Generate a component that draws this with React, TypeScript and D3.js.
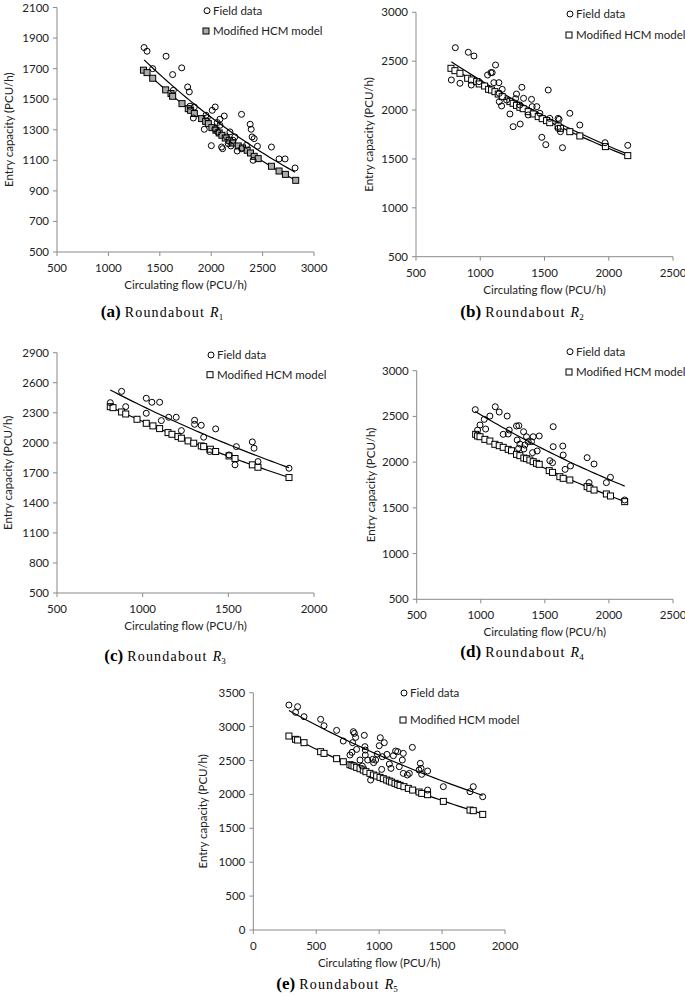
import React from 'react';
import * as d3 from 'd3';

// ---------- Data: Roundabout R1 ----------
const r1FieldFlow = [1347,1376,1431,1561,1625,1632,1713,1771,1787,1794,1826,1836,1933,1962,1949,2001,2010,2039,2059,2085,2101,2111,2127,2149,2182,2191,2230,2253,2295,2343,2379,2389,2398,2408,2418,2450,2586,2660,2719,2816,2062,2036,2214,2166,2085,2295];
const r1FieldCap = [1838,1814,1700,1781,1661,1558,1705,1580,1548,1454,1377,1449,1303,1379,1395,1196,1427,1449,1347,1369,1187,1176,1390,1253,1286,1194,1253,1161,1401,1198,1336,1303,1253,1100,1242,1192,1187,1109,1109,1050,1286,1307,1231,1209,1329,1176];
const r1ModelFlow = [1341,1376,1431,1557,1609,1625,1716,1777,1800,1836,1907,1946,1972,2007,2046,2078,2104,2137,2175,2207,2263,2305,2350,2382,2418,2457,2586,2660,2722,2822];
const r1ModelCap = [1690,1674,1637,1561,1537,1519,1471,1438,1427,1406,1373,1355,1340,1314,1297,1279,1264,1246,1231,1213,1194,1181,1166,1148,1126,1111,1061,1030,1008,969];
const r1XTicks = [500,1000,1500,2000,2500,3000];
const r1YTicks = [500,700,900,1100,1300,1500,1700,1900,2100];

// ---------- Data: Roundabout R2 ----------
const r2FieldFlow = [806,775,842,907,951,930,990,1057,1083,1093,1119,1106,1145,1148,1171,1166,1148,1231,1256,1282,1275,1311,1324,1337,1399,1404,1373,1440,1529,1479,1510,1541,1606,1614,1624,1640,1697,1775,1971,2148,1205,1308,1464,1606];
const r2FieldCap = [2638,2308,2274,2591,2553,2256,2291,2359,2383,2383,2461,2280,2280,2171,2212,2042,2086,1960,1830,2164,2117,1857,2233,2120,2110,2035,1950,2035,2205,1721,1646,1915,1915,1905,1779,1615,1967,1847,1666,1639,2103,2052,1967,1813];
const r2ModelFlow = [772,803,842,902,933,972,992,1034,1065,1088,1114,1140,1171,1231,1256,1282,1308,1334,1373,1412,1451,1482,1516,1541,1606,1624,1697,1775,1974,2148];
const r2ModelCap = [2427,2403,2376,2325,2308,2291,2267,2246,2212,2205,2188,2164,2137,2086,2069,2048,2028,2014,1984,1960,1933,1912,1892,1871,1837,1813,1779,1735,1626,1534];
const r2XTicks = [500,1000,1500,2000,2500];
const r2YTicks = [500,1000,1500,2000,2500,3000];

// ---------- Data: Roundabout R3 ----------
const r3FieldFlow = [811,877,901,1021,1021,1054,1099,1109,1152,1196,1226,1303,1303,1342,1356,1426,1391,1504,1539,1547,1640,1650,1673,1854];
const r3FieldCap = [2401,2514,2361,2445,2295,2405,2405,2222,2255,2255,2122,2225,2185,2175,2056,2139,1913,1879,1780,1962,2009,1946,1813,1746];
const r3ModelFlow = [811,827,877,901,967,1021,1060,1099,1148,1171,1206,1226,1265,1298,1342,1356,1395,1426,1504,1539,1640,1673,1854];
const r3ModelCap = [2361,2351,2308,2288,2235,2195,2169,2142,2102,2085,2062,2046,2019,1996,1969,1962,1936,1913,1869,1843,1780,1756,1653];
const r3XTicks = [500,1000,1500,2000];
const r3YTicks = [500,800,1100,1400,1700,2000,2300,2600,2900];

// ---------- Data: Roundabout R4 ----------
const r4FieldFlow = [957,975,994,1027,1038,1071,1113,1144,1206,1175,1214,1222,1279,1297,1284,1305,1295,1334,1336,1357,1370,1396,1409,1404,1440,1456,1344,1539,1560,1565,1565,1640,1643,1658,1700,1830,1884,1845,1980,2012,2123];
const r4FieldCap = [2574,2351,2406,2468,2362,2504,2606,2548,2504,2304,2308,2351,2395,2399,2242,2198,2151,2333,2144,2278,2224,2224,2278,2104,2122,2286,2187,2016,1994,2388,2169,2176,2078,1921,1958,2049,1980,1776,1776,1834,1586];
const r4ModelFlow = [960,975,994,1032,1071,1110,1144,1175,1214,1240,1279,1305,1336,1357,1383,1409,1435,1456,1534,1560,1617,1643,1695,1830,1851,1884,1980,2012,2123];
const r4ModelCap = [2304,2286,2278,2249,2231,2195,2180,2162,2140,2125,2085,2071,2045,2038,2023,2005,1987,1976,1907,1888,1841,1823,1805,1732,1714,1695,1652,1630,1568];
const r4XTicks = [500,1000,1500,2000,2500];
const r4YTicks = [500,1000,1500,2000,2500,3000];

// ---------- Data: Roundabout R5 ----------
const r5FieldFlow = [283,336,352,403,535,562,662,715,768,784,789,795,803,813,821,848,866,882,887,890,890,909,932,948,956,972,985,1001,1009,1020,1025,1041,1062,1081,1094,1113,1131,1147,1160,1184,1192,1192,1224,1240,1264,1317,1327,1333,1338,1385,1385,1510,1722,1748,1823];
const r5FieldCap = [3318,3210,3294,3146,3107,3013,2944,2787,2581,2620,2763,2925,2900,2841,2664,2507,2418,2871,2704,2654,2580,2507,2212,2517,2468,2507,2595,2718,2836,2369,2556,2763,2590,2448,2384,2571,2640,2630,2409,2507,2605,2310,2286,2310,2694,2359,2458,2384,2296,2345,2064,2114,2040,2114,1966];
const r5ModelFlow = [283,336,352,403,535,562,662,715,768,784,800,821,848,874,895,927,954,980,1007,1033,1060,1081,1099,1126,1147,1166,1197,1232,1266,1317,1338,1385,1510,1722,1748,1823];
const r5ModelCap = [2861,2812,2802,2763,2630,2605,2527,2482,2438,2428,2418,2399,2379,2359,2335,2310,2286,2271,2251,2232,2212,2197,2182,2163,2148,2133,2114,2089,2064,2035,2015,1996,1897,1769,1760,1705];
const r5XTicks = [0,500,1000,1500,2000];
const r5YTicks = [0,500,1000,1500,2000,2500,3000,3500];

const fieldLabel = 'Field data';
const modelLabel = 'Modified HCM model';
const xTitle = 'Circulating flow (PCU/h)';
const yTitle = 'Entry capacity (PCU/h)';

// ---------- Layout (positions / styles only) ----------
type PanelDef = {
  letter: string; sub: string;
  fx: number[]; fy: number[]; mx: number[]; my: number[];
  xt: number[]; yt: number[];
  left: number; right: number; top: number; bottom: number;
  yTitleX: number; legX: number; legY1: number; legY2: number;
  capX: number; capY: number; sqFill: string;
};

const panels: PanelDef[] = [
  { letter: '(a)', sub: '1', fx: r1FieldFlow, fy: r1FieldCap, mx: r1ModelFlow, my: r1ModelCap, xt: r1XTicks, yt: r1YTicks,
    left: 57, right: 314, top: 7.5, bottom: 252, yTitleX: 9, legX: 207, legY1: 10.7, legY2: 31, capX: 162, capY: 317, sqFill: '#aaa' },
  { letter: '(b)', sub: '2', fx: r2FieldFlow, fy: r2FieldCap, mx: r2ModelFlow, my: r2ModelCap, xt: r2XTicks, yt: r2YTicks,
    left: 416, right: 673, top: 12.3, bottom: 256.7, yTitleX: 369, legX: 570, legY1: 14, legY2: 35, capX: 522, capY: 317, sqFill: '#fff' },
  { letter: '(c)', sub: '3', fx: r3FieldFlow, fy: r3FieldCap, mx: r3ModelFlow, my: r3ModelCap, xt: r3XTicks, yt: r3YTicks,
    left: 57, right: 314, top: 352.7, bottom: 593, yTitleX: 8, legX: 211, legY1: 355, legY2: 374.7, capX: 165, capY: 661, sqFill: '#fff' },
  { letter: '(d)', sub: '4', fx: r4FieldFlow, fy: r4FieldCap, mx: r4ModelFlow, my: r4ModelCap, xt: r4XTicks, yt: r4YTicks,
    left: 416.7, right: 673, top: 370.7, bottom: 599.3, yTitleX: 371, legX: 570, legY1: 351.7, legY2: 372, capX: 522, capY: 657, sqFill: '#fff' },
  { letter: '(e)', sub: '5', fx: r5FieldFlow, fy: r5FieldCap, mx: r5ModelFlow, my: r5ModelCap, xt: r5XTicks, yt: r5YTicks,
    left: 253.3, right: 505, top: 692.7, bottom: 930, yTitleX: 203, legX: 404, legY1: 693, legY2: 720, capX: 337, capY: 989, sqFill: '#fff' },
];

const SANS = 'Lato, "Open Sans", sans-serif';
const SERIF = '"Liberation Serif", "Times New Roman", serif';
const AXIS = '#8a8a8a';

function fitExp(xs: number[], ys: number[]) {
  const ly = ys.map((v) => Math.log(v));
  const mx = d3.mean(xs)!;
  const my = d3.mean(ly)!;
  let num = 0, den = 0;
  for (let i = 0; i < xs.length; i++) {
    num += (xs[i] - mx) * (ly[i] - my);
    den += (xs[i] - mx) * (xs[i] - mx);
  }
  const b = num / den;
  const a = Math.exp(my - b * mx);
  return (x: number) => a * Math.exp(b * x);
}

function Panel({ p }: { p: PanelDef }) {
  const x = d3.scaleLinear().domain(d3.extent(p.xt) as [number, number]).range([p.left, p.right]);
  const y = d3.scaleLinear().domain(d3.extent(p.yt) as [number, number]).range([p.bottom, p.top]);
  const line = d3.line<[number, number]>().x((d) => x(d[0])).y((d) => y(d[1]));
  const mkTrend = (xs: number[], ys: number[]) => {
    const f = fitExp(xs, ys);
    const [x0, x1] = d3.extent(xs) as [number, number];
    const pts: [number, number][] = d3.range(0, 41).map((i) => {
      const xv = x0 + ((x1 - x0) * i) / 40;
      return [xv, f(xv)];
    });
    return line(pts)!;
  };
  const cy = (p.top + p.bottom) / 2;
  return (
    <g>
      <line x1={p.left} x2={p.left} y1={p.top} y2={p.bottom} stroke={AXIS} strokeWidth={1} />
      <line x1={p.left} x2={p.right} y1={p.bottom} y2={p.bottom} stroke={AXIS} strokeWidth={1} />
      {p.yt.map((t) => (
        <g key={'y' + t}>
          <line x1={p.left - 4} x2={p.left} y1={y(t)} y2={y(t)} stroke={AXIS} />
          <text x={p.left - 8} y={y(t)} dy="0.35em" textAnchor="end" fontFamily={SANS} fontSize={11.5} fill="#222">{t}</text>
        </g>
      ))}
      {p.xt.map((t) => (
        <g key={'x' + t}>
          <line x1={x(t)} x2={x(t)} y1={p.bottom} y2={p.bottom + 4} stroke={AXIS} />
          <text x={x(t)} y={p.bottom + 20} textAnchor="middle" fontFamily={SANS} fontSize={11.5} fill="#222">{t}</text>
        </g>
      ))}
      <text x={(p.left + p.right) / 2} y={p.bottom + 37} textAnchor="middle" fontFamily={SANS} fontSize={11.5} fill="#222">{xTitle}</text>
      <text transform={`translate(${p.yTitleX},${cy}) rotate(-90)`} textAnchor="middle" dy="0.35em" fontFamily={SANS} fontSize={11.5} fill="#222">{yTitle}</text>

      <path d={mkTrend(p.fx, p.fy)} fill="none" stroke="#000" strokeWidth={1.2} />
      <path d={mkTrend(p.mx, p.my)} fill="none" stroke="#000" strokeWidth={1.2} />

      {p.mx.map((v, i) => (
        <rect key={'m' + i} x={x(v) - 3} y={y(p.my[i]) - 3} width={6} height={6} fill={p.sqFill} stroke="#000" strokeWidth={1} />
      ))}
      {p.fx.map((v, i) => (
        <circle key={'f' + i} cx={x(v)} cy={y(p.fy[i])} r={3} fill="none" stroke="#000" strokeWidth={1} />
      ))}

      <circle cx={p.legX} cy={p.legY1} r={3} fill="#fff" stroke="#000" strokeWidth={1} />
      <text x={p.legX + 6} y={p.legY1} dy="0.35em" fontFamily={SANS} fontSize={11.5} fill="#222">{fieldLabel}</text>
      <rect x={p.legX - 4} y={p.legY2 - 3} width={6} height={6} fill={p.sqFill} stroke="#000" strokeWidth={1} />
      <text x={p.legX + 6} y={p.legY2} dy="0.35em" fontFamily={SANS} fontSize={11.5} fill="#222">{modelLabel}</text>

      <text x={p.capX} y={p.capY} textAnchor="middle" fontFamily={SERIF} fill="#000">
        <tspan fontWeight="bold" fontSize={17}>{p.letter}</tspan>
        <tspan fontSize={14} dx={4} letterSpacing={1.2}>Roundabout</tspan>
        <tspan fontSize={14} fontStyle="italic" dx={5}>R</tspan>
        <tspan fontSize={9} dy={3}>{p.sub}</tspan>
      </text>
    </g>
  );
}

export default function App() {
  return (
    <svg width={685} height={996} style={{ position: 'absolute', left: 0, top: 0, background: '#fff' }}>
      <rect width={685} height={996} fill="#fff" />
      {panels.map((p) => (
        <Panel key={p.letter} p={p} />
      ))}
    </svg>
  );
}
